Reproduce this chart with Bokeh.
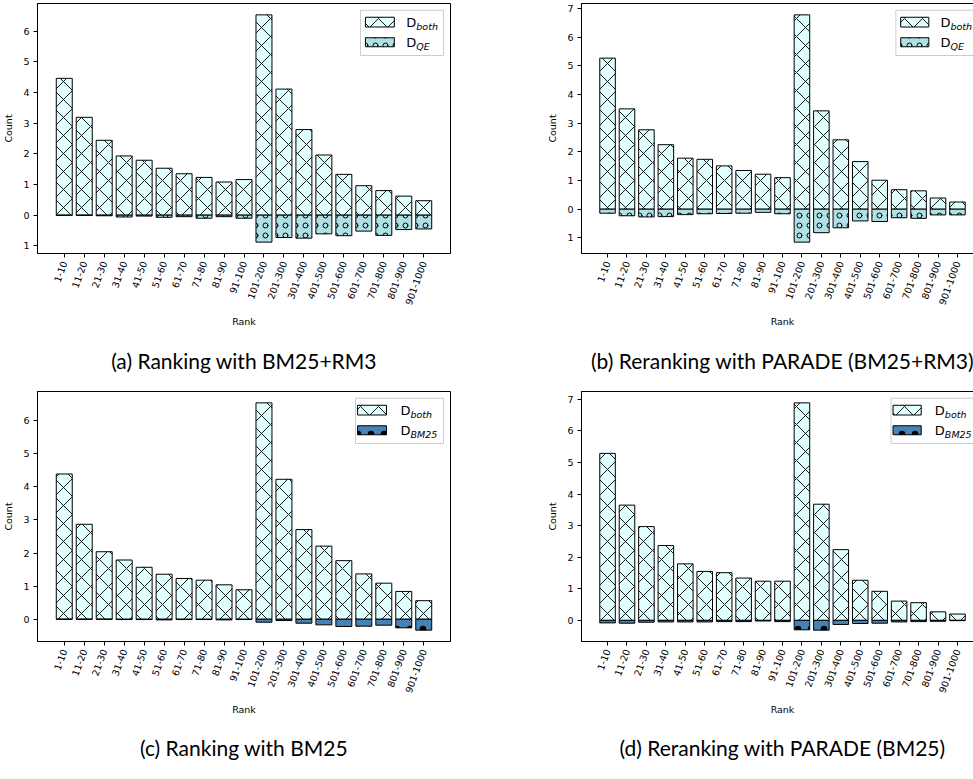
import math
from bokeh.plotting import figure
from bokeh.layouts import column, row
from bokeh.models import Range1d, FixedTicker, Title, Label
from bokeh.embed import file_html
from bokeh.resources import INLINE

ranks = ["1-10", "11-20", "21-30", "31-40", "41-50", "51-60", "61-70", "71-80",
         "81-90", "91-100", "101-200", "201-300", "301-400", "401-500", "501-600",
         "601-700", "701-800", "801-900", "901-1000"]

a_both = [4.46, 3.19, 2.44, 1.93, 1.79, 1.53, 1.35, 1.23, 1.08, 1.16, 6.53, 4.11, 2.79, 1.96, 1.33, 0.96, 0.80, 0.62, 0.47]
a_qe = [0.01, 0.01, 0.02, 0.06, 0.03, 0.07, 0.05, 0.10, 0.05, 0.10, 0.88, 0.73, 0.75, 0.61, 0.67, 0.52, 0.66, 0.47, 0.45]

b_both = [5.27, 3.50, 2.77, 2.25, 1.78, 1.74, 1.51, 1.35, 1.22, 1.10, 6.78, 3.43, 2.42, 1.66, 1.01, 0.68, 0.64, 0.39, 0.25]
b_qe = [0.14, 0.23, 0.27, 0.26, 0.19, 0.16, 0.15, 0.14, 0.11, 0.16, 1.15, 0.82, 0.65, 0.41, 0.43, 0.30, 0.32, 0.20, 0.20]

c_both = [4.39, 2.87, 2.04, 1.79, 1.57, 1.36, 1.23, 1.18, 1.04, 0.89, 6.54, 4.23, 2.71, 2.21, 1.77, 1.37, 1.09, 0.84, 0.56]
c_bm25 = [0.00, 0.00, 0.00, 0.01, 0.01, 0.02, 0.01, 0.01, 0.02, 0.01, 0.09, 0.04, 0.12, 0.17, 0.22, 0.21, 0.18, 0.26, 0.33]

d_both = [5.29, 3.65, 2.97, 2.37, 1.79, 1.55, 1.51, 1.34, 1.24, 1.24, 6.89, 3.68, 2.24, 1.27, 0.92, 0.61, 0.56, 0.27, 0.20]
d_bm25 = [0.08, 0.09, 0.06, 0.05, 0.05, 0.05, 0.04, 0.04, 0.02, 0.04, 0.30, 0.31, 0.13, 0.10, 0.09, 0.05, 0.04, 0.03, 0.01]

captions = ["(a) Ranking with BM25+RM3", "(b) Reranking with PARADE (BM25+RM3)",
            "(c) Ranking with BM25", "(d) Reranking with PARADE (BM25)"]

FONT = "DejaVu Sans"
CAP_FONT = "Lato"
LIGHT = "#e0ffff"
QE_COLOR = "#b0e0e6"
BM_COLOR = "#4682b4"
CROSS_SCALE = 18


def make_panel(both, other, other_color, other_hatch, other_scale, other_weight, other_name,
               caption, frame_w, frame_h, bl, br, bt, bb, leg_left, sw_left, txt_left,
               cap_standoff):
    n = len(ranks)
    xs = list(range(n))
    width = 0.8
    xspan = (n - 1) + width
    x0 = -width / 2 - 0.05 * xspan
    x1 = (n - 1) + width / 2 + 0.05 * xspan
    lo = -max(other)
    hi = max(both)
    yspan = hi - lo
    y0 = lo - 0.05 * yspan
    y1 = hi + 0.05 * yspan

    p = figure(frame_width=frame_w, frame_height=frame_h,
               x_range=Range1d(x0, x1), y_range=Range1d(y0, y1),
               output_backend="svg", toolbar_location=None,
               min_border_left=bl, min_border_right=br,
               min_border_top=bt, min_border_bottom=bb)
    p.xgrid.visible = False
    p.ygrid.visible = False
    p.outline_line_color = "black"
    p.outline_line_width = 1
    p.background_fill_color = "white"

    p.vbar(x=xs, top=both, bottom=0, width=width, fill_color=LIGHT,
           line_color="black", line_width=1,
           hatch_pattern="diagonal_cross", hatch_scale=CROSS_SCALE, hatch_color="black",
           hatch_weight=0.9)
    p.vbar(x=xs, top=0, bottom=[-v for v in other], width=width,
           fill_color=other_color, line_color="black", line_width=1,
           hatch_pattern=other_hatch, hatch_scale=other_scale, hatch_color="black",
           hatch_weight=other_weight)

    yt = list(range(math.ceil(y0), math.floor(y1) + 1))
    p.yaxis.ticker = FixedTicker(ticks=yt)
    p.yaxis.major_label_overrides = {t: str(abs(t)) for t in yt if t < 0}
    p.xaxis.ticker = FixedTicker(ticks=xs)
    p.xaxis.major_label_overrides = {i: r for i, r in enumerate(ranks)}
    p.xaxis.major_label_orientation = math.radians(70)

    for ax in (p.xaxis[0], p.yaxis[0]):
        ax.axis_line_color = "black"
        ax.major_tick_out = 4
        ax.major_tick_in = 0
        ax.minor_tick_line_color = None
        ax.major_label_text_font = FONT
        ax.major_label_text_font_size = "9.5px"
        ax.major_label_text_color = "black"
        ax.axis_label_text_font = FONT
        ax.axis_label_text_font_size = "9.5px"
        ax.axis_label_text_font_style = "normal"
        ax.axis_label_text_color = "black"
        ax.major_label_standoff = 4
        ax.axis_label_standoff = 6
    p.xaxis.axis_label = "Rank"
    p.yaxis.axis_label = "Count"

    # legend (manual, to allow subscripts)
    fx = lambda f: x0 + f * (x1 - x0)
    fy = lambda f: y1 - f * (y1 - y0)
    p.quad(left=[fx(leg_left)], right=[fx(0.983)], top=[fy(0.027)], bottom=[fy(0.208)],
           fill_color="white", fill_alpha=0.85, line_color="#cccccc", line_width=1)
    p.quad(left=[fx(sw_left)], right=[fx(sw_left + 0.07)], top=[fy(0.055)], bottom=[fy(0.094)],
           fill_color=LIGHT, line_color="black", line_width=1,
           hatch_pattern="diagonal_cross", hatch_scale=CROSS_SCALE, hatch_color="black",
           hatch_weight=0.9)
    p.quad(left=[fx(sw_left)], right=[fx(sw_left + 0.07)], top=[fy(0.137)], bottom=[fy(0.173)],
           fill_color=other_color, line_color="black", line_width=1,
           hatch_pattern=other_hatch, hatch_scale=other_scale, hatch_color="black",
           hatch_weight=other_weight)
    for yf, sub in ((0.075, "both"), (0.155, other_name)):
        p.add_layout(Label(x=fx(txt_left), y=fy(yf), text="D", text_font=FONT,
                           text_font_size="13px", text_baseline="middle",
                           text_color="black"))
        p.add_layout(Label(x=fx(txt_left), y=fy(yf), x_offset=10, y_offset=-4,
                           text=sub, text_font=FONT, text_font_size="9.5px",
                           text_font_style="italic", text_baseline="middle",
                           text_color="black"))

    p.add_layout(Title(text=caption, align="center", text_font=CAP_FONT,
                       text_font_size="21px", text_font_style="normal",
                       text_color="black", standoff=cap_standoff), "below")
    return p


pa = make_panel(a_both, a_qe, QE_COLOR, "ring", 10, 1, "QE", captions[0],
                413, 250, 23, 94, 3, 135, 0.782, 0.794, 0.893, 32)
pb = make_panel(b_both, b_qe, QE_COLOR, "ring", 10, 1, "QE", captions[1],
                402, 250, 23, 2, 3, 135, 0.782, 0.794, 0.893, 32)
pc = make_panel(c_both, c_bm25, BM_COLOR, "dot", 13, 0.5, "BM25", captions[2],
                413, 250, 23, 94, 3, 121, 0.77, 0.775, 0.879, 30)
pd = make_panel(d_both, d_bm25, BM_COLOR, "dot", 13, 0.5, "BM25", captions[3],
                402, 250, 23, 2, 3, 121, 0.77, 0.775, 0.879, 30)

layout = column(row(pa, pb), row(pc, pd))
open("out.html", "w").write(file_html(layout, INLINE))
